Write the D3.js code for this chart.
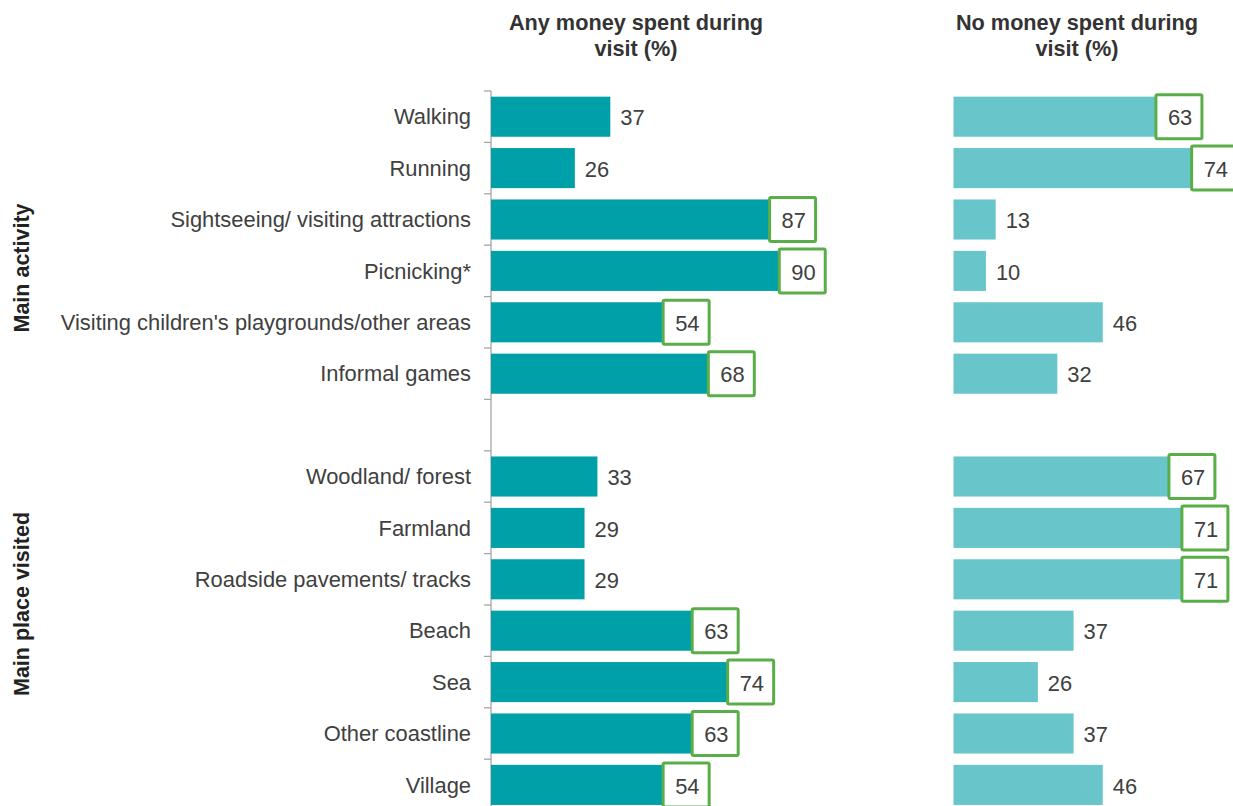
<!DOCTYPE html>
<html><head><meta charset="utf-8">
<script src="https://cdn.jsdelivr.net/npm/d3@7"></script>
<style>body{margin:0;background:#fff;}svg{display:block;font-family:"Liberation Sans",Arial,sans-serif;}</style>
</head><body>
<svg id="c" width="1233" height="806"></svg>
<script>
const categories = ["Walking","Running","Sightseeing/ visiting attractions","Picnicking*","Visiting children's playgrounds/other areas","Informal games","","Woodland/ forest","Farmland","Roadside pavements/ tracks","Beach","Sea","Other coastline","Village"];
const anyMoney = [37,26,87,90,54,68,null,33,29,29,63,74,63,54];
const noMoney  = [63,74,13,10,46,32,null,67,71,71,37,26,37,46];
const highlightAny = [false,false,true,true,true,true,false,false,false,false,true,true,true,true];
const highlightNo  = [true,true,false,false,false,false,false,true,true,true,false,false,false,false];
const titles = [["Any money spent during","visit (%)"],["No money spent during","visit (%)"]];
const groups = ["Main activity","Main place visited"];

const svg = d3.select("#c");
const keys = categories.map((c,i)=>i);
const step = 51.4;
const y = d3.scaleBand().domain(keys).range([91, 91+step*keys.length]).paddingInner(0.22).paddingOuter(0.11);
const xL = d3.scaleLinear().domain([0,100]).range([491, 491+322.5]);
const xR = d3.scaleLinear().domain([0,100]).range([953.5, 953.5+324.5]);
const textCol = "#404040", green = "#5AAE47";
const fs = 21.9;

// axis line + ticks (left)
const bounds = d3.range(keys.length+1).map(i => y.range()[0] + i*y.step());
svg.append("line").attr("x1",491).attr("x2",491).attr("y1",bounds[0]).attr("y2",bounds[bounds.length-1]).attr("stroke","#A6A6A6").attr("stroke-width",1.3);
svg.selectAll(".tk").data(bounds).join("line").attr("x1",484).attr("x2",491).attr("y1",d=>d).attr("y2",d=>d).attr("stroke","#A6A6A6").attr("stroke-width",1.3);

// category labels
svg.selectAll(".cat").data(keys).join("text")
  .attr("x",471).attr("y",k=>y(k)+y.bandwidth()/2).attr("dy","0.35em")
  .attr("text-anchor","end").attr("font-size",fs).attr("fill",textCol)
  .text(k=>categories[k]);

function panel(vals, hl, x, color){
  const g = svg.append("g");
  const data = keys.filter(k=>vals[k]!=null);
  g.selectAll("rect.bar").data(data).join("rect").attr("class","bar")
    .attr("x",x(0)).attr("y",k=>y(k)).attr("width",k=>x(vals[k])-x(0)).attr("height",y.bandwidth()).attr("fill",color);
  g.selectAll("rect.box").data(data.filter(k=>hl[k])).join("rect").attr("class","box")
    .attr("x",k=>x(vals[k])-2).attr("y",k=>y(k)+y.bandwidth()/2-22).attr("width",46).attr("height",44)
    .attr("fill","#fff").attr("stroke",green).attr("stroke-width",3).attr("rx",1.5);
  g.selectAll("text.val").data(data).join("text").attr("class","val")
    .attr("x",k=>x(vals[k])+10).attr("y",k=>y(k)+y.bandwidth()/2+1).attr("dy","0.35em")
    .attr("font-size",fs).attr("fill",textCol).text(k=>vals[k]);
}
panel(anyMoney, highlightAny, xL, "#00A0A9");
panel(noMoney, highlightNo, xR, "#68C6CB");

// titles
[[636,titles[0]],[1077,titles[1]]].forEach(([cx,t])=>{
  svg.append("text").attr("x",cx).attr("y",30).attr("text-anchor","middle").attr("font-size",21.7).attr("font-weight","bold").attr("fill","#333").text(t[0]);
  svg.append("text").attr("x",cx).attr("y",56).attr("text-anchor","middle").attr("font-size",21.7).attr("font-weight","bold").attr("fill","#333").text(t[1]);
});
// group labels
[[268,groups[0]],[604,groups[1]]].forEach(([cy,t])=>{
  svg.append("text").attr("transform",`translate(29,${cy}) rotate(-90)`).attr("text-anchor","middle")
    .attr("font-size",21.5).attr("font-weight","bold").attr("fill","#222").text(t);
});
</script>
</body></html>
